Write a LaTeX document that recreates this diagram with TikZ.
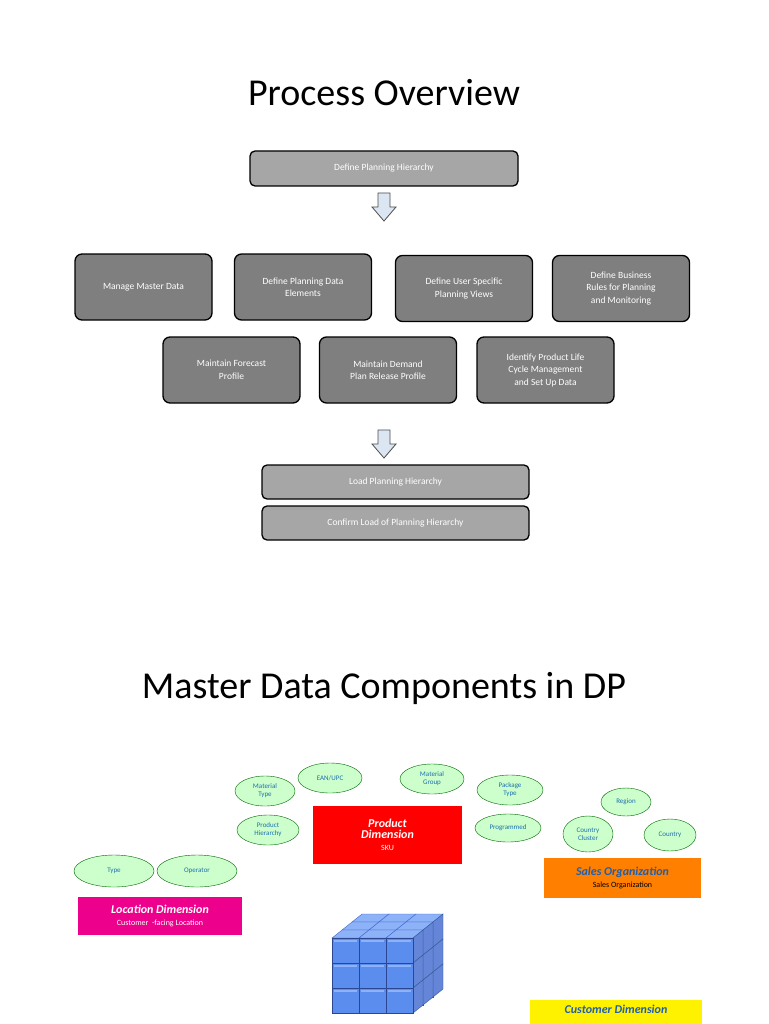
\documentclass[tikz,border=0pt]{standalone}
\usepackage{fontspec}
\setmainfont{Carlito}
\usetikzlibrary{shapes.geometric,backgrounds}
\definecolor{stepgray}{HTML}{7F7F7F}
\definecolor{phasegray}{HTML}{A6A6A6}
\definecolor{arrowblue}{HTML}{DCE6F2}
\definecolor{bubblegreen}{HTML}{CCFFCC}
\definecolor{bubbletext}{HTML}{1F6FB0}
\definecolor{dimblue}{HTML}{1F5FAD}
\definecolor{cubeface}{HTML}{5A8DEE}
\definecolor{cubetop}{HTML}{8DB2F7}
\definecolor{cubeside}{HTML}{3D66CF}
\tikzset{
  phasebox/.style={rectangle, rounded corners=5pt, draw=black, line width=1.3pt, fill=phasegray,
    text=white, minimum width=268pt, minimum height=35pt, font=\fontsize{9.5}{11.5}\selectfont},
  taskbox/.style={rectangle, rounded corners=7pt, draw=black, line width=1.3pt, fill=stepgray,
    text=white, minimum width=137pt, minimum height=66pt, align=center, font=\fontsize{9.5}{12.5}\selectfont},
  bubble/.style={ellipse, draw=black!60!green, fill=bubblegreen, text=bubbletext, inner sep=0pt,
    align=center, font=\fontsize{7}{8}\selectfont},
  bubbletail/.style={draw=black!60!green, fill=bubblegreen},
  dimbox/.style={rectangle, minimum height=38pt, align=center, inner sep=2pt},
  cubelink/.style={draw=cyan!50!blue!60, line width=0.5pt},
  blockarrow/.style={draw=black!70, line width=0.8pt, fill=arrowblue},
}
\newcommand{\blockdown}[2]{% x, y top
  \draw[blockarrow] (#1-6,#2) -- (#1+6,#2) -- (#1+6,#2+14) -- (#1+12,#2+14) -- (#1,#2+28)
    -- (#1-12,#2+14) -- (#1-6,#2+14) -- cycle;}
\begin{document}
\begin{tikzpicture}[x=1pt,y=-1pt]
  \useasboundingbox (0,0) rectangle (768,1024);
  \fill[white] (0,0) rectangle (768,1024);

  % Process overview
  \node[font=\fontsize{38}{40}\selectfont] (title1) at (384,93) {Process Overview};
  \node[phasebox] (define) at (384,168.5) {Define Planning Hierarchy};
  \blockdown{384}{193}

  % Steps
  \node[taskbox] (master) at (143.5,287) {Manage Master Data};
  \node[taskbox] (elements) at (303,287) {Define Planning Data\\Elements};
  \node[taskbox] (views) at (464,288.5) {Define User Specific\\Planning Views};
  \node[taskbox] (rules) at (621,288.5) {Define Business\\Rules for Planning\\and Monitoring};
  \node[taskbox] (forecast) at (231.5,370) {Maintain Forecast\\Profile};
  \node[taskbox] (release) at (388,370) {Maintain Demand\\Plan Release Profile};
  \node[taskbox] (lifecycle) at (545.5,370) {Identify Product Life\\Cycle Management\\and Set Up Data};
  \blockdown{384}{430}

  % Load
  \node[phasebox, minimum width=267pt, minimum height=34pt] (load) at (395.5,482) {Load Planning Hierarchy};
  \node[phasebox, minimum width=267pt, minimum height=34pt] (confirm) at (395.5,523) {Confirm Load of Planning Hierarchy};

  % Master data components
  \node[font=\fontsize{38}{40}\selectfont] (title2) at (384,688) {Master Data Components in DP};

  % Cube
  \foreach \k in {2,1,0}{
    \foreach \i in {0,1,2}{
      \foreach \j in {0,1,2}{
        \fill[cubeside, draw=cubeface!60!black] (332+27*\i+10*\k,938+25*\j-8*\k) rectangle ++(27,25);
      }
    }
  }
  \foreach \k in {2,1,0}{
    \foreach \i in {0,1,2}{
      \fill[cubetop, draw=cubeside] (332+27*\i+10*\k,938-8*\k) -- ++(10,-8) -- ++(27,0) -- ++(-10,8) -- cycle;
    }
    \foreach \j in {0,1,2}{
      \fill[cubeside!80!white, draw=cubeface!60!black] (413+10*\k,938+25*\j-8*\k) -- ++(10,-8) -- ++(0,25) -- ++(-10,8) -- cycle;
    }
  }
  \foreach \i in {0,1,2}{
    \foreach \j in {0,1,2}{
      \fill[cubeface, draw=cubeside!70!black] (332+27*\i,938+25*\j) rectangle ++(27,25);
      \fill[cubetop] (334+27*\i,940+25*\j) rectangle ++(23,2);
    }
  }

  % Dimensions
  \node[dimbox, fill=red, text=white, minimum width=149pt, minimum height=58pt] (product) at (387.5,835)
    {\bfseries\itshape\fontsize{12}{15}\selectfont Product\\[-1pt]\bfseries\itshape\fontsize{12}{15}\selectfont Dimension\\\fontsize{8}{10}\selectfont SKU};
  \node[dimbox, fill=orange, minimum width=157pt, minimum height=40pt] (sales) at (622.5,878)
    {\bfseries\itshape\fontsize{12}{14}\selectfont\color{dimblue}Sales Organization\\\fontsize{8}{10}\selectfont Sales Organization};
  \node[dimbox, fill=magenta, text=white, minimum width=164pt, minimum height=38pt] (location) at (160,916)
    {\bfseries\itshape\fontsize{12}{14}\selectfont Location Dimension\\\fontsize{8}{10}\selectfont Customer \ -facing Location};
  \node[dimbox, fill=yellow, minimum width=172pt, minimum height=50pt, anchor=north] (customer) at (616,1000)
    {\bfseries\itshape\fontsize{12}{14}\selectfont\color{dimblue}Customer Dimension\\[20pt]};

  % Links to the cube
  \begin{scope}[on background layer]
    \draw[cubelink] (product.south) -- (387,925);
    \draw[cubelink] (location.east) ++(0,4) -- (332,955);
    \draw[cubelink] (sales.south west) -- (440,950);
    \draw[cubelink] (443,990) -- (customer.west);
    \draw[cubelink] (332,1000) -- (255,1024);
    \draw[cubelink] (387,1012) -- (387,1024);
  \end{scope}

  % Callouts
  \node[bubble, minimum width=60pt, minimum height=30pt] (mtype) at (265,791) {Material\\Type};
  \node[bubble, minimum width=64pt, minimum height=30pt] (ean) at (330,778) {EAN/UPC};
  \node[bubble, minimum width=64pt, minimum height=30pt] (mgroup) at (432,779) {Material\\Group};
  \node[bubble, minimum width=66pt, minimum height=30pt] (ptype) at (510,790) {Package\\Type};
  \node[bubble, minimum width=62pt, minimum height=30pt] (phier) at (268,830) {Product\\Hierarchy};
  \node[bubble, minimum width=66pt, minimum height=28pt] (progr) at (508,828) {Programmed};
  \node[bubble, minimum width=50pt, minimum height=28pt] (region) at (626,802) {Region};
  \node[bubble, minimum width=50pt, minimum height=36pt] (ccluster) at (588,834) {Country\\Cluster};
  \node[bubble, minimum width=52pt, minimum height=32pt] (country) at (670,835) {Country};
  \node[bubble, minimum width=80pt, minimum height=32pt] (type) at (114,871) {Type};
  \node[bubble, minimum width=80pt, minimum height=32pt] (operator) at (197,871) {Operator};
  \begin{scope}[on background layer]
    \draw[bubbletail] (mtype.-60) -- (product.north west) -- (mtype.-20) -- cycle;
    \draw[bubbletail] (ean.-80) -- (352,803) -- (ean.-40) -- cycle;
    \draw[bubbletail] (mgroup.-140) -- (420,805) -- (mgroup.-100) -- cycle;
    \draw[bubbletail] (ptype.-150) -- (product.north east) -- (ptype.-110) -- cycle;
    \draw[bubbletail] (phier.-40) -- (311,842) -- (phier.-5) -- cycle;
    \draw[bubbletail] (progr.-170) -- (463,848) -- (progr.-130) -- cycle;
    \draw[bubbletail] (region.-100) -- (634,858) -- (region.-70) -- cycle;
    \draw[bubbletail] (ccluster.-80) -- (606,858) -- (ccluster.-40) -- cycle;
    \draw[bubbletail] (country.-150) -- (661,858) -- (country.-110) -- cycle;
    \draw[bubbletail] (type.-140) -- (location.north west) -- (type.-100) -- cycle;
    \draw[bubbletail] (operator.-70) -- (242,897) -- (operator.-30) -- cycle;
  \end{scope}
\end{tikzpicture}
\end{document}
